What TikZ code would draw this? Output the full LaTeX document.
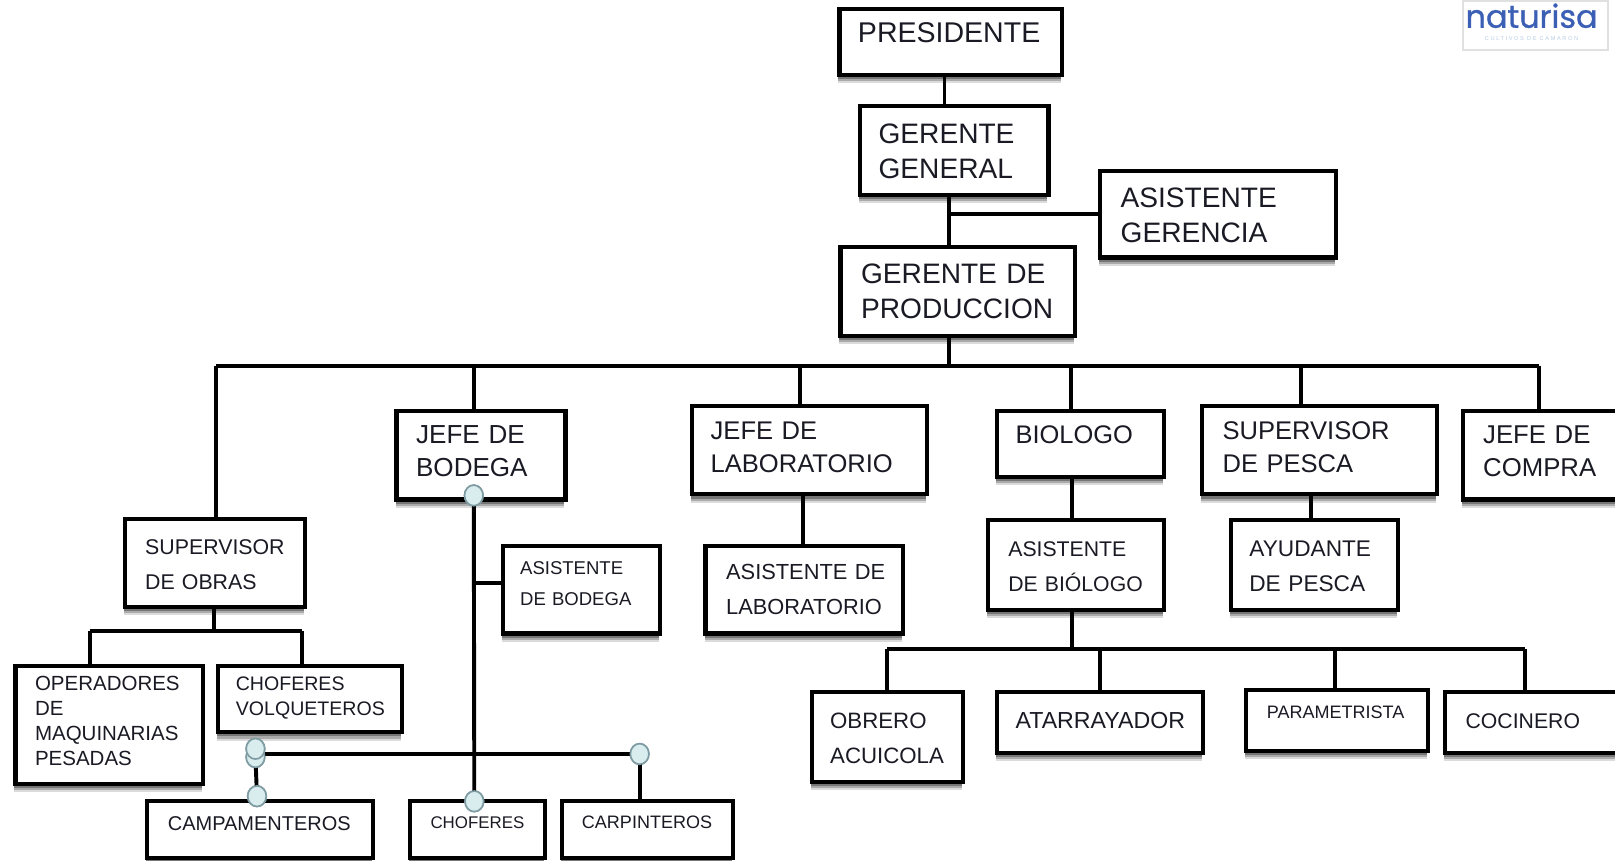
\documentclass[tikz,border=0pt]{standalone}
\usepackage{fontspec}
\setmainfont{Liberation Sans}
\newfontfamily\logofont[FakeBold=0.9]{Poppins}
\usetikzlibrary{shadows,shapes.geometric}
\definecolor{inkc}{HTML}{1A1A24}
\definecolor{handlefill}{HTML}{D9ECEE}
\definecolor{handleline}{HTML}{7F9CA3}
\definecolor{logoblue}{HTML}{3B5FB4}
\definecolor{logopale}{HTML}{B9CDE6}
\tikzset{
  boxst/.style={draw=black,line width=4pt,fill=white,outer sep=0pt,inner xsep=0pt,inner ysep=0pt,align=left,text=inkc,anchor=north west,
    general shadow={fill=black,opacity=.14,shadow yshift=-8pt,shadow xshift=-1pt},
    general shadow={fill=black,opacity=.22,shadow yshift=-6pt,shadow xshift=-1pt},
    general shadow={fill=black,opacity=.3,shadow yshift=-4pt,shadow xshift=-1pt}},
  conn/.style={draw=black,line width=3.8pt,line cap=butt},
  handle/.style={ellipse,draw=handleline,line width=1.6pt,fill=handlefill,minimum width=18pt,minimum height=20pt,inner sep=0pt,outer sep=0pt},
}
% name, x1, y1, x2, y2, text x, first baseline y, {size}{leading}, text (lines start with \ind)
\newcommand{\bx}[9]{%
  \pgfmathsetmacro{\bxw}{#4-#2}%
  \pgfmathsetmacro{\bxh}{#5-#3}%
  \pgfmathsetmacro{\bxa}{#7-#3}%
  \pgfmathsetmacro{\bxd}{#5-#7}%
  \pgfmathsetmacro{\bxl}{#6-#2}%
  \node[boxst,text width=\bxw pt,text height=\bxa pt,text depth=\bxd pt,font=\fontsize#8\selectfont] (#1) at (#2,#3) {#9};%
}
\newcommand{\ind}{\hspace*{\bxl pt}}
\begin{document}
\begin{tikzpicture}[x=1pt,y=-1pt]
\useasboundingbox (0,0) rectangle (1568,835);
\fill[white] (0,0) rectangle (1568,835);
% logo
\node[draw=black!12,line width=1.5pt,fill=white,anchor=north west,minimum width=141pt,minimum height=48pt,inner sep=0pt] (logo) at (1419.5,0) {};
\node[anchor=base,inner sep=0pt,text=logoblue,font=\logofont\fontsize{31}{31}\selectfont] (logoname) at (1487,27) {naturisa};
\node[anchor=base,inner sep=0pt,text=logopale,font=\addfontfeatures{LetterSpace=28}\fontsize{5.5}{5.5}\selectfont] (logosub) at (1487,39) {CULTIVOS DE CAMARON};
% boxes
\bx{pres}{815}{9}{1031}{73}{833}{41}{{27.7}{34}}{\ind PRESIDENTE}
\bx{gg}{835}{103}{1018}{189}{853}{139}{{27.3}{34}}{\ind GERENTE\\\ind GENERAL}
\bx{ag}{1068}{166}{1297}{250}{1088}{201}{{27.3}{34}}{\ind ASISTENTE\\\ind GERENCIA}
\bx{gp}{816}{240}{1044}{326}{836}{275}{{27.3}{34}}{\ind GERENTE DE\\\ind PRODUCCION}
\bx{sobras}{121}{504}{296}{589}{141}{538}{{20.7}{34}}{\ind SUPERVISOR\\\ind DE OBRAS}
\bx{jbod}{385}{399}{549}{485}{404}{431}{{25.3}{32}}{\ind JEFE DE\\\ind BODEGA}
\bx{jlab}{672}{394}{900}{480}{690}{427}{{24.8}{32}}{\ind JEFE DE\\\ind LABORATORIO}
\bx{bio}{968}{399}{1130}{463}{986}{431}{{24.7}{32}}{\ind BIOLOGO}
\bx{spesca}{1167}{394}{1395}{480}{1187}{427}{{24.8}{32}}{\ind SUPERVISOR\\\ind DE PESCA}
\bx{jcompra}{1420}{399}{1590}{485}{1440}{431}{{25}{32}}{\ind JEFE DE\\\ind COMPRA}
\bx{asbod}{488}{530}{641}{615}{505}{558}{{18}{30}}{\ind ASISTENTE\\\ind DE BODEGA}
\bx{aslab}{685}{530}{877}{615}{705}{563}{{21.2}{34}}{\ind ASISTENTE DE\\\ind LABORATORIO}
\bx{asbio}{959}{505}{1130}{592}{979}{540}{{20.6}{34}}{\ind ASISTENTE\\\ind DE BIÓLOGO}
\bx{ayu}{1195}{505}{1357}{592}{1213}{540}{{22}{34}}{\ind AYUDANTE\\\ind DE PESCA}
\bx{ope}{15}{647}{197}{761}{34}{670}{{19.9}{24.4}}{\ind OPERADORES\\\ind DE\\\ind MAQUINARIAS\\\ind PESADAS}
\bx{chov}{212}{647}{390}{711}{229}{670}{{19}{25}}{\ind CHOFERES\\\ind VOLQUETEROS}
\bx{camp}{143}{778}{362}{833}{163}{806}{{19.4}{24}}{\ind CAMPAMENTEROS}
\bx{chof}{398}{778}{529}{833}{418}{804}{{16.4}{24}}{\ind CHOFERES}
\bx{carp}{546}{778}{712}{833}{565}{804}{{17.5}{24}}{\ind CARPINTEROS}
\bx{obr}{788}{672}{935}{759}{806}{707}{{21.6}{34}}{\ind OBRERO\\\ind ACUICOLA}
\bx{ata}{968}{672}{1168}{731}{986}{707}{{22.5}{34}}{\ind ATARRAYADOR}
\bx{par}{1210}{670}{1386}{729}{1230}{698}{{17.5}{24}}{\ind PARAMETRISTA}
\bx{coc}{1403}{672}{1590}{731}{1423}{707}{{20.6}{24}}{\ind COCINERO}
% junctions
\coordinate (j1) at (917,90);
\coordinate (j2) at (921,208);
\coordinate (bm) at (921,355);
\coordinate (d1) at (210,355);
\coordinate (d2) at (460,355);
\coordinate (d3) at (777,355);
\coordinate (d4) at (1040,355);
\coordinate (d5) at (1263,355);
\coordinate (d6) at (1494,355);
\coordinate (o0) at (208,613);
\coordinate (o1) at (87,613);
\coordinate (o2) at (293,613);
\coordinate (b0) at (1041,630);
\coordinate (b1) at (861,630);
\coordinate (b2) at (1068,630);
\coordinate (b3) at (1296,630);
\coordinate (b4) at (1481,630);
\coordinate (br) at (460,566);
\coordinate (l1) at (780,500);
\coordinate (l2) at (1041,480);
\coordinate (l3) at (1273,490);
% handles
\node[handle] (h1) at (460,481) {};
\node[handle] (h2) at (248,727) {};
\node[handle] (h3) at (248,735) {};
\node[handle] (h4) at (249.5,773) {};
\node[handle] (h5) at (460.5,778) {};
\node[handle] (h6) at (621,732) {};
% connectors
\draw[conn] (j1 |- pres.south) -- (j1 |- gg.north);
\draw[conn] (j2 |- gg.south) -- (j2 |- gp.north);
\draw[conn] (j2) -- (j2 -| ag.west);
\draw[conn] (bm |- gp.south) -- (bm);
\draw[conn,line cap=square] (d1) -- (d6);
\draw[conn] (d1) -- (d1 |- sobras.north);
\draw[conn] (d2) -- (d2 |- jbod.north);
\draw[conn] (d3) -- (d3 |- jlab.north);
\draw[conn] (d4) -- (d4 |- bio.north);
\draw[conn] (d5) -- (d5 |- spesca.north);
\draw[conn] (d6) -- (d6 |- jcompra.north);
\draw[conn] (o0 |- sobras.south) -- (o0);
\draw[conn,line cap=square] (o1) -- (o2);
\draw[conn] (o1) -- (o1 |- ope.north);
\draw[conn] (o2) -- (o2 |- chov.north);
\draw[conn] (l1 |- jlab.south) -- (l1 |- aslab.north);
\draw[conn] (l2 |- bio.south) -- (l2 |- asbio.north);
\draw[conn] (l3 |- spesca.south) -- (l3 |- ayu.north);
\draw[conn] (b0 |- asbio.south) -- (b0);
\draw[conn,line cap=square] (b1) -- (b4);
\draw[conn] (b1) -- (b1 |- obr.north);
\draw[conn] (b2) -- (b2 |- ata.north);
\draw[conn] (b3) -- (b3 |- par.north);
\draw[conn] (b4) -- (b4 |- coc.north);
\draw[conn] (h1) -- (h5);
\draw[conn] (br) -- (br -| asbod.west);
\draw[conn] (h6 -| h3) -- (h6);
\draw[conn] (h3) -- (h4);
\draw[conn] (h6) -- (h6 |- carp.north);
% handles again on top of the lines
\node[handle] at (h3) {};
\node[handle] at (h2) {};
\node[handle] at (h1) {};
\node[handle] at (h4) {};
\node[handle] at (h5) {};
\node[handle] at (h6) {};
\end{tikzpicture}
\end{document}
